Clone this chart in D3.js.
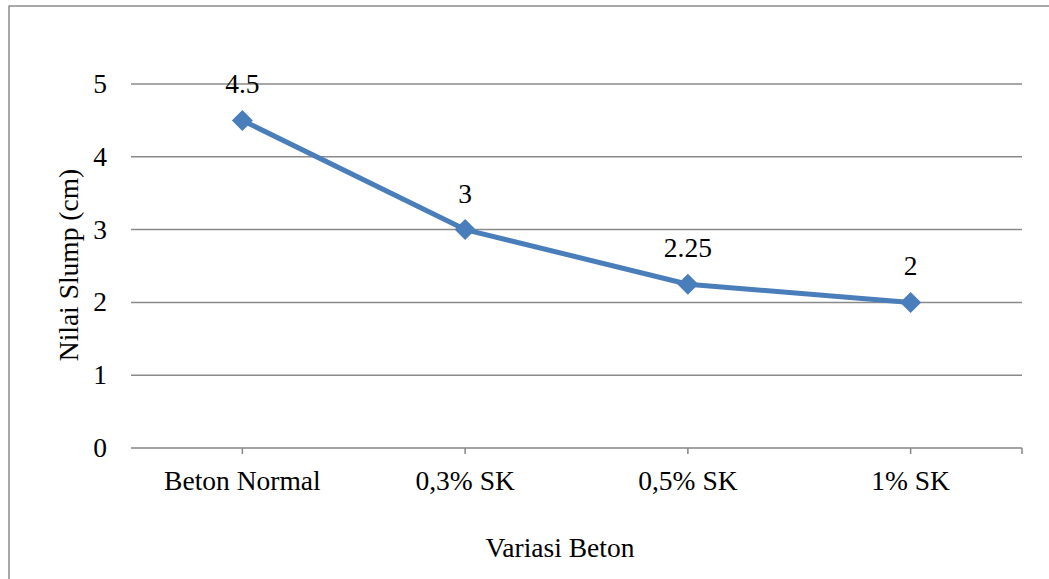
<!DOCTYPE html>
<html><head><meta charset="utf-8">
<script src="https://cdn.jsdelivr.net/npm/d3@7"></script>
<style>body{margin:0;background:#fff}svg{display:block}</style>
</head><body>
<svg id="c" width="1049" height="579"></svg>
<script>
const categories = ["Beton Normal", "0,3% SK", "0,5% SK", "1% SK"];
const slumpValues = [4.5, 3, 2.25, 2];
const dataLabels = ["4.5", "3", "2.25", "2"];
const yTicks = [0, 1, 2, 3, 4, 5];
const yTitle = "Nilai Slump (cm)";
const xTitle = "Variasi Beton";

const svg = d3.select("#c");
const FONT = '"Liberation Serif"';
const fs = "27.5px";
const L = 131, R = 1022, T = 84, B = 448;

function txt(sel) {
  return sel.style("font-family", FONT).style("font-size", fs).style("fill", "#000");
}

svg.append("rect").attr("x", 9).attr("y", 6).attr("width", 1049).attr("height", 600)
  .attr("fill", "#fff").attr("stroke", "#8c8c8c").attr("stroke-width", 1.5);

const x = d3.scaleBand().domain(categories).range([L, R]).padding(0);
const y = d3.scaleLinear().domain([0, 5]).range([B, T]);

svg.append("g").selectAll("line").data(yTicks.filter(d => d > 0)).join("line")
  .attr("x1", L).attr("x2", R).attr("y1", d => y(d)).attr("y2", d => y(d))
  .attr("stroke", "#8a8a8a").attr("stroke-width", 1.5);

txt(svg.append("g").selectAll("text").data(yTicks).join("text")
  .attr("x", 107).attr("y", d => y(d) + 9)
  .attr("text-anchor", "end").text(d => d));

svg.append("line").attr("x1", L).attr("x2", R).attr("y1", B).attr("y2", B)
  .attr("stroke", "#868686").attr("stroke-width", 1.5);
const tickXs = categories.map(c => x(c) + x.bandwidth() / 2).concat([R]);
svg.append("g").selectAll("line").data(tickXs).join("line")
  .attr("x1", d => d).attr("x2", d => d).attr("y1", B).attr("y2", B + 6)
  .attr("stroke", "#868686").attr("stroke-width", 1.5);

txt(svg.append("g").selectAll("text").data(categories).join("text")
  .attr("x", d => x(d) + x.bandwidth() / 2).attr("y", 490)
  .attr("text-anchor", "middle").text(d => d));

const pts = categories.map((c, i) => [x(c) + x.bandwidth() / 2, y(slumpValues[i])]);
svg.append("path").attr("d", d3.line()(pts)).attr("fill", "none")
  .attr("stroke", "#4a7ebb").attr("stroke-width", 5).attr("stroke-linejoin", "round");

svg.append("g").selectAll("path").data(pts).join("path")
  .attr("transform", d => `translate(${d[0]},${d[1]})`)
  .attr("d", "M0,-10.5L10.5,0L0,10.5L-10.5,0Z").attr("fill", "#4a7ebb");

txt(svg.append("g").selectAll("text").data(pts).join("text")
  .attr("x", d => d[0]).attr("y", d => d[1] - 27)
  .attr("text-anchor", "middle").text((d, i) => dataLabels[i]));

txt(svg.append("text").attr("x", 560).attr("y", 557).attr("text-anchor", "middle").text(xTitle));
txt(svg.append("text").attr("transform", "translate(78,265) rotate(-90)").attr("text-anchor", "middle").text(yTitle));
</script>
</body></html>
